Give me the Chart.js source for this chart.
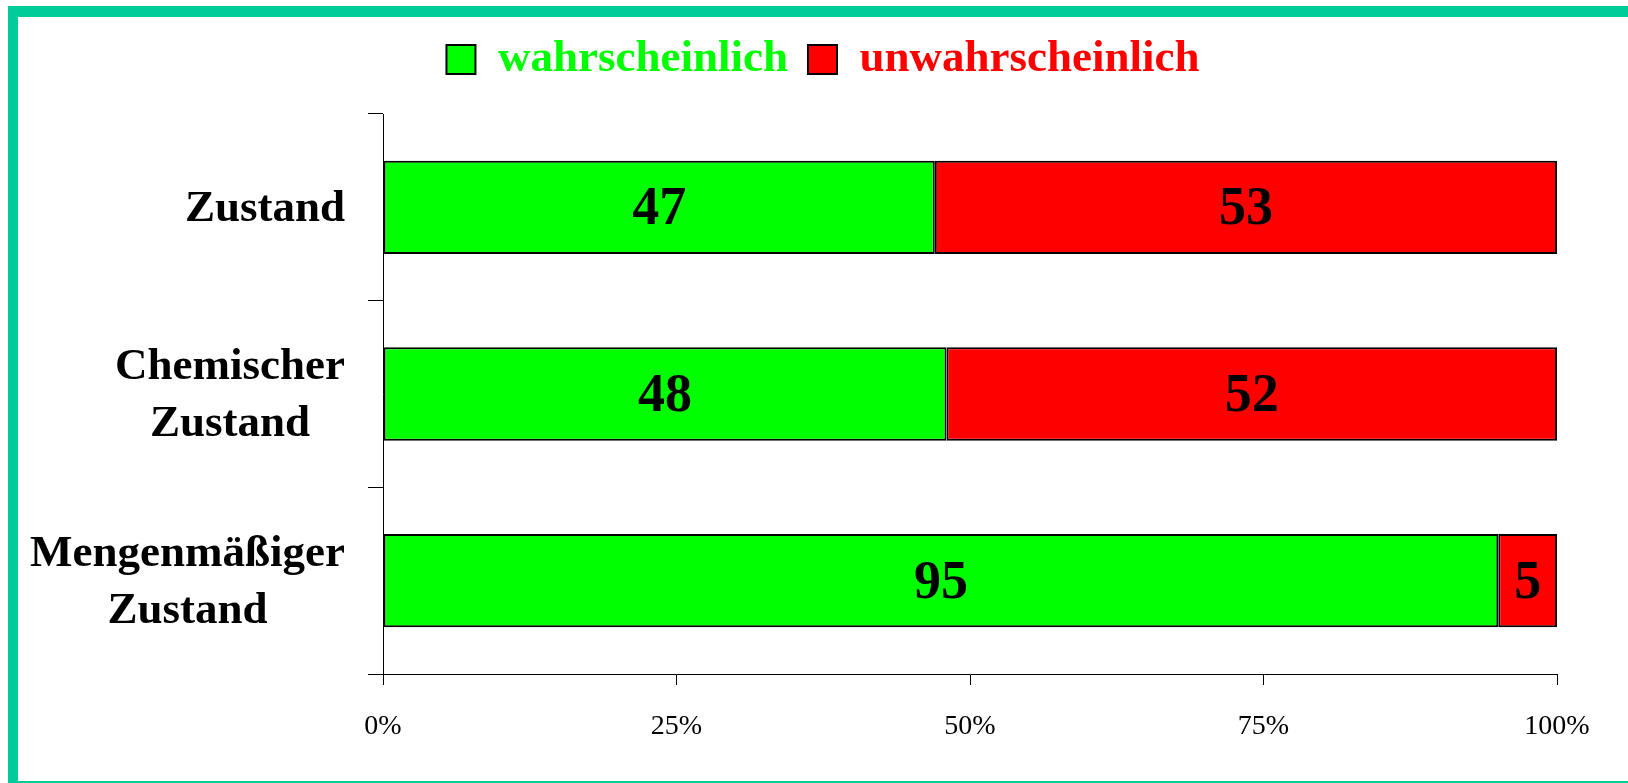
<!DOCTYPE html>
<html>
<head>
<meta charset="utf-8">
<script src="https://cdn.jsdelivr.net/npm/chart.js@4.4.1/dist/chart.umd.min.js"></script>
<style>
  html, body { margin: 0; padding: 0; background: #fff; overflow: hidden; }
  #frame {
    position: absolute;
    left: 8px;
    top: 6px;
    width: 1610px;
    height: 764px;
    border-top: 11px solid #00cc99;
    border-left: 10px solid #00cc99;
    border-bottom: 2px solid #00cc99;
  }
  #chart { display: block; }
</style>
</head>
<body>
<div id="frame"><canvas id="chart" width="1610" height="764"></canvas></div>
<script>
const categories = [["Zustand"], ["Chemischer", "Zustand"], ["Mengenmäßiger", "Zustand"]];
const seriesNames = ["wahrscheinlich", "unwahrscheinlich"];
const likely = [47, 48, 95];
const unlikely = [53, 52, 5];
const xTicks = [0, 25, 50, 75, 100];
const seriesColors = ["#00ff00", "#ff0000"];

const serif = "'Liberation Serif', 'Times New Roman', serif";

// extra room between the legend and the plot
const legendSpacing = {
  id: "legendSpacing",
  beforeInit(chart) {
    const fit = chart.legend.fit;
    chart.legend.fit = function () {
      fit.bind(chart.legend)();
      this.height += 22;
    };
  }
};

// numbers inside the bars
const valueLabels = {
  id: "valueLabels",
  afterDatasetsDraw(chart) {
    const ctx = chart.ctx;
    ctx.save();
    ctx.font = "bold 54px " + serif;
    ctx.fillStyle = "#000";
    ctx.textAlign = "center";
    ctx.textBaseline = "middle";
    chart.data.datasets.forEach((ds, di) => {
      chart.getDatasetMeta(di).data.forEach((bar, i) => {
        const p = bar.getCenterPoint();
        ctx.fillText(ds.data[i], p.x, p.y + 3);
      });
    });
    ctx.restore();
  }
};

// category labels: block right aligned, lines centred inside the block
const categoryLabels = {
  id: "categoryLabels",
  afterDraw(chart) {
    const scale = chart.scales.y;
    const ctx = chart.ctx;
    ctx.save();
    ctx.font = "bold 45px " + serif;
    ctx.fillStyle = "#000";
    ctx.textAlign = "center";
    ctx.textBaseline = "middle";
    const right = scale.right - 38;
    scale.ticks.forEach((t, i) => {
      const lines = categories[i];
      const blockW = Math.max(...lines.map((l) => ctx.measureText(l).width));
      const cx = right - blockW / 2;
      const cy = scale.getPixelForTick(i) + 2;
      lines.forEach((line, j) => {
        ctx.fillText(line, cx, cy + (j - (lines.length - 1) / 2) * 57);
      });
    });
    ctx.restore();
  }
};

new Chart(document.getElementById("chart"), {
  type: "bar",
  data: {
    labels: categories,
    datasets: [
      {
        label: seriesNames[0],
        data: likely,
        backgroundColor: seriesColors[0],
        borderColor: "#000",
        borderWidth: 2,
        borderSkipped: false
      },
      {
        label: seriesNames[1],
        data: unlikely,
        backgroundColor: seriesColors[1],
        borderColor: "#000",
        borderWidth: 2,
        borderSkipped: false
      }
    ]
  },
  options: {
    indexAxis: "y",
    responsive: false,
    animation: false,
    events: [],
    categoryPercentage: 1,
    barPercentage: 0.5,
    layout: { padding: { top: 0, right: 71, left: 71, bottom: 0 } },
    plugins: {
      tooltip: { enabled: false },
      legend: {
        position: "top",
        labels: {
          boxWidth: 29,
          boxHeight: 29,
          padding: 20,
          font: { family: serif, size: 45, weight: "bold" },
          generateLabels: (chart) =>
            Chart.defaults.plugins.legend.labels
              .generateLabels(chart)
              .map((item, i) => ({ ...item, fontColor: seriesColors[i] }))
        }
      }
    },
    scales: {
      x: {
        stacked: true,
        min: 0,
        max: 100,
        afterFit: (scale) => { scale.height = 107; },
        afterBuildTicks: (scale) => { scale.ticks = xTicks.map((v) => ({ value: v })); },
        ticks: {
          color: "#000",
          padding: 25,
          maxRotation: 0,
          font: { family: serif, size: 28 },
          callback: (v) => v + "%"
        },
        grid: { drawOnChartArea: false, tickLength: 11, color: "#000" },
        border: { color: "#000", width: 1 }
      },
      y: {
        stacked: true,
        afterFit: (scale) => { scale.width = 294; },
        ticks: { display: false },
        grid: { offset: true, drawOnChartArea: false, tickLength: 15, color: "#000" },
        border: { color: "#000", width: 1 }
      }
    }
  },
  plugins: [legendSpacing, valueLabels, categoryLabels]
});
</script>
</body>
</html>
